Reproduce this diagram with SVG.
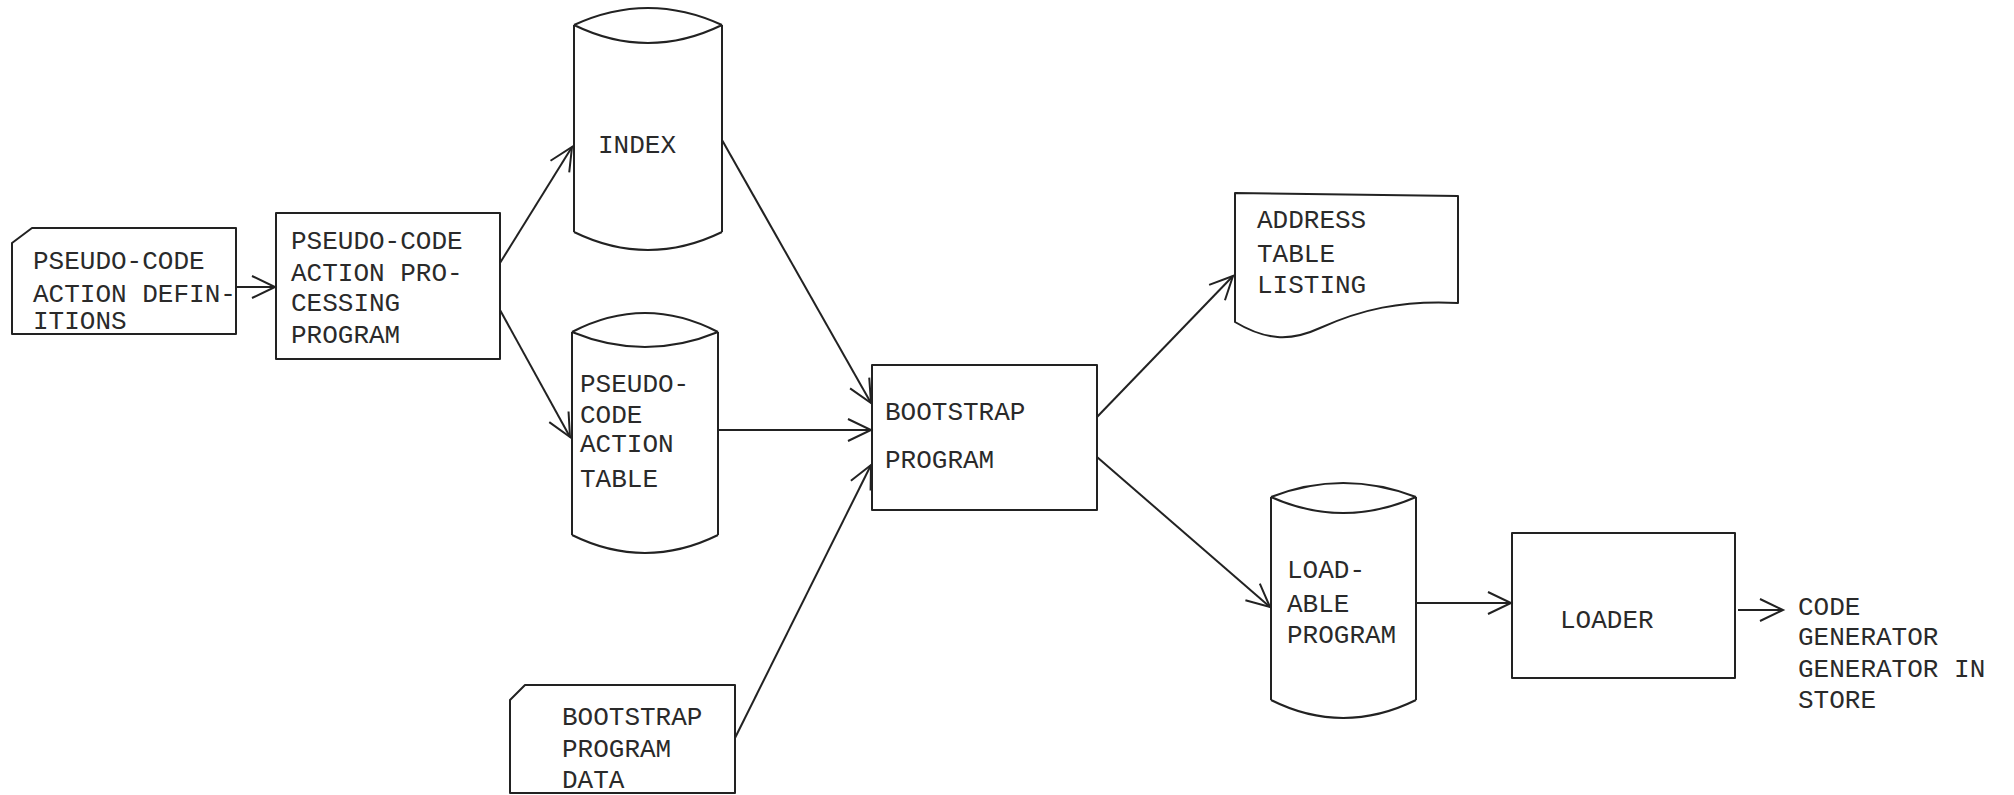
<svg xmlns="http://www.w3.org/2000/svg" width="2014" height="795" viewBox="0 0 2014 795">
  <defs>
    <style>
      .shape { fill: none; stroke: #222; stroke-width: 2; stroke-linejoin: round; }
      .link { fill: none; stroke: #222; stroke-width: 2; }
      .label { font-family: "Liberation Mono", "DejaVu Sans Mono", monospace; font-size: 26px; fill: #2a2a2a; }
    </style>
    <marker id="arr" viewBox="-26 -14 30 28" refX="0" refY="0" markerWidth="30" markerHeight="28" markerUnits="userSpaceOnUse" orient="auto">
      <path d="M-23,-11 L0,0 L-23,11" fill="none" stroke="#222" stroke-width="2"/>
    </marker>
  </defs>
  <rect width="2014" height="795" fill="#ffffff"/>

  <!-- punched-card input: action definitions -->
  <g id="action-definitions">
    <path class="shape" d="M12,243 L32,228 L236,228 L236,334 L12,334 Z"/>
    <text class="label" x="33" y="269">PSEUDO-CODE</text>
    <text class="label" x="33" y="302">ACTION DEFIN-</text>
    <text class="label" x="33" y="329">ITIONS</text>
  </g>

  <!-- processing program -->
  <g id="processing-program">
    <rect class="shape" x="276" y="213" width="224" height="146"/>
    <text class="label" x="291" y="249">PSEUDO-CODE</text>
    <text class="label" x="291" y="281">ACTION PRO-</text>
    <text class="label" x="291" y="311">CESSING</text>
    <text class="label" x="291" y="343">PROGRAM</text>
  </g>

  <!-- disc file: index -->
  <g id="index">
    <path class="shape" d="M574,25 Q648,-9 722,25 M574,25 Q648,61 722,25 M574,25 V232 M722,25 V232 M574,232 Q648,268 722,232"/>
    <text class="label" x="598" y="153">INDEX</text>
  </g>

  <!-- disc file: action table -->
  <g id="action-table">
    <path class="shape" d="M572,332 Q645,294 718,332 M572,332 Q645,362 718,332 M572,332 V535 M718,332 V535 M572,535 Q645,571 718,535"/>
    <text class="label" x="580" y="392">PSEUDO-</text>
    <text class="label" x="580" y="423">CODE</text>
    <text class="label" x="580" y="452">ACTION</text>
    <text class="label" x="580" y="487">TABLE</text>
  </g>

  <!-- punched-card input: bootstrap data -->
  <g id="bootstrap-data">
    <path class="shape" d="M510,700 L525,685 L735,685 L735,793 L510,793 Z"/>
    <text class="label" x="562" y="725">BOOTSTRAP</text>
    <text class="label" x="562" y="757">PROGRAM</text>
    <text class="label" x="562" y="788">DATA</text>
  </g>

  <!-- bootstrap program -->
  <g id="bootstrap-program">
    <rect class="shape" x="872" y="365" width="225" height="145"/>
    <text class="label" x="885" y="420">BOOTSTRAP</text>
    <text class="label" x="885" y="468">PROGRAM</text>
  </g>

  <!-- printed document: address table listing -->
  <g id="address-listing">
    <path class="shape" d="M1235,193 L1458,196 L1458,303 C1400,300 1360,310 1320,328 C1290,342 1265,340 1235,322 Z"/>
    <text class="label" x="1257" y="228">ADDRESS</text>
    <text class="label" x="1257" y="262">TABLE</text>
    <text class="label" x="1257" y="293">LISTING</text>
  </g>

  <!-- disc file: loadable program -->
  <g id="loadable-program">
    <path class="shape" d="M1271,497 Q1343,469 1416,497 M1271,497 Q1343,529 1416,497 M1271,497 V700 M1416,497 V700 M1271,700 Q1343,736 1416,700"/>
    <text class="label" x="1287" y="578">LOAD-</text>
    <text class="label" x="1287" y="612">ABLE</text>
    <text class="label" x="1287" y="643">PROGRAM</text>
  </g>

  <!-- loader -->
  <g id="loader">
    <rect class="shape" x="1512" y="533" width="223" height="145"/>
    <text class="label" x="1560" y="628">LOADER</text>
  </g>

  <!-- result -->
  <g id="result">
    <text class="label" x="1798" y="615">CODE</text>
    <text class="label" x="1798" y="645">GENERATOR</text>
    <text class="label" x="1798" y="677">GENERATOR IN</text>
    <text class="label" x="1798" y="708">STORE</text>
  </g>

  <g id="connectors">
    <line class="link" x1="236" y1="287" x2="275" y2="287" marker-end="url(#arr)"/>
    <line class="link" x1="500" y1="263" x2="572" y2="147" marker-end="url(#arr)"/>
    <line class="link" x1="500" y1="310" x2="570" y2="437" marker-end="url(#arr)"/>
    <line class="link" x1="722" y1="140" x2="871" y2="403" marker-end="url(#arr)"/>
    <line class="link" x1="718" y1="430" x2="871" y2="430" marker-end="url(#arr)"/>
    <line class="link" x1="735" y1="738" x2="871" y2="465" marker-end="url(#arr)"/>
    <line class="link" x1="1097" y1="417" x2="1233" y2="276" marker-end="url(#arr)"/>
    <line class="link" x1="1097" y1="457" x2="1270" y2="607" marker-end="url(#arr)"/>
    <line class="link" x1="1417" y1="603" x2="1511" y2="603" marker-end="url(#arr)"/>
    <line class="link" x1="1738" y1="610" x2="1783" y2="610" marker-end="url(#arr)"/>
  </g>
</svg>
